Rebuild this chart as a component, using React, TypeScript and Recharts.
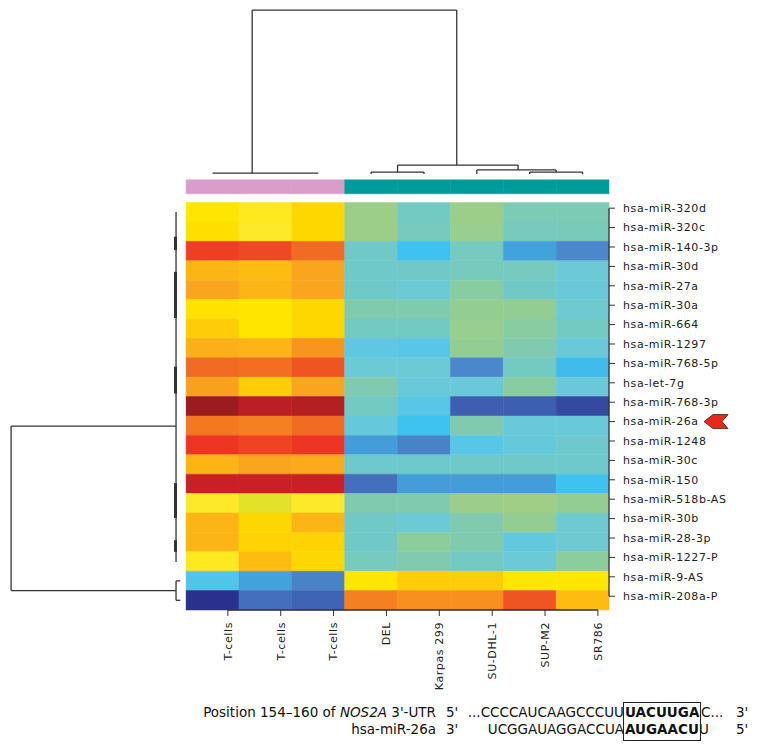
import React from 'react';
import { ComposedChart, XAxis, YAxis, Scatter, ReferenceArea, ReferenceLine } from 'recharts';

const samples = ['T-cells', 'T-cells', 'T-cells', 'DEL', 'Karpas 299', 'SU-DHL-1', 'SUP-M2', 'SR786'];
const sampleGroups = ['T-cells', 'T-cells', 'T-cells', 'ALCL', 'ALCL', 'ALCL', 'ALCL', 'ALCL'];
const groupColors: Record<string, string> = { 'T-cells': '#da9dc9', ALCL: '#009c9b' };

const mirnas = [
  'hsa-miR-320d', 'hsa-miR-320c', 'hsa-miR-140-3p', 'hsa-miR-30d', 'hsa-miR-27a', 'hsa-miR-30a',
  'hsa-miR-664', 'hsa-miR-1297', 'hsa-miR-768-5p', 'hsa-let-7g', 'hsa-miR-768-3p', 'hsa-miR-26a',
  'hsa-miR-1248', 'hsa-miR-30c', 'hsa-miR-150', 'hsa-miR-518b-AS', 'hsa-miR-30b', 'hsa-miR-28-3p',
  'hsa-miR-1227-P', 'hsa-miR-9-AS', 'hsa-miR-208a-P',
];
const highlighted = 'hsa-miR-26a';

// relative expression per sample, 0 = lowest (blue) .. 1 = highest (dark red)
const tCells1 = [0.66, 0.68, 0.935, 0.77, 0.8, 0.67, 0.73, 0.78, 0.89, 0.81, 1.0, 0.87, 0.945, 0.77, 0.97, 0.64, 0.77, 0.77, 0.645, 0.3, 0.0];
const tCells2 = [0.645, 0.64, 0.925, 0.76, 0.77, 0.66, 0.66, 0.77, 0.885, 0.73, 0.98, 0.86, 0.93, 0.8, 0.97, 0.6, 0.7, 0.71, 0.76, 0.2, 0.12];
const tCells3 = [0.7, 0.7, 0.89, 0.8, 0.8, 0.7, 0.7, 0.83, 0.91, 0.8, 0.985, 0.89, 0.945, 0.79, 0.97, 0.64, 0.77, 0.71, 0.7, 0.15, 0.1];
const del = [0.55, 0.55, 0.43, 0.42, 0.42, 0.48, 0.44, 0.34, 0.38, 0.48, 0.44, 0.36, 0.19, 0.41, 0.12, 0.48, 0.43, 0.43, 0.45, 0.66, 0.86];
const karpas299 = [0.44, 0.45, 0.25, 0.43, 0.38, 0.48, 0.44, 0.32, 0.38, 0.37, 0.32, 0.25, 0.15, 0.41, 0.19, 0.48, 0.38, 0.51, 0.48, 0.73, 0.84];
const suDhl1 = [0.55, 0.54, 0.45, 0.45, 0.5, 0.53, 0.54, 0.53, 0.16, 0.37, 0.09, 0.48, 0.32, 0.42, 0.19, 0.55, 0.48, 0.48, 0.44, 0.73, 0.84];
const supM2 = [0.47, 0.45, 0.2, 0.45, 0.43, 0.53, 0.5, 0.48, 0.44, 0.5, 0.09, 0.37, 0.36, 0.42, 0.19, 0.56, 0.53, 0.35, 0.38, 0.66, 0.91];
const sr786 = [0.47, 0.46, 0.16, 0.38, 0.37, 0.4, 0.44, 0.37, 0.24, 0.37, 0.05, 0.37, 0.41, 0.41, 0.25, 0.53, 0.4, 0.4, 0.51, 0.66, 0.76];
const columns = [tCells1, tCells2, tCells3, del, karpas299, suDhl1, supM2, sr786];

// sample dendrogram (x = column position, y = merge height in row units above the map)
const sampleMerges = [
  { a: 0.5, ah: -1.52, b: 2.5, bh: -1.52, h: -1.52 },
  { a: 3.5, ah: -1.47, b: 4.5, bh: -1.47, h: -1.57 },
  { a: 6.5, ah: -1.47, b: 7.5, bh: -1.47, h: -1.57 },
  { a: 5.5, ah: -1.47, b: 7.0, bh: -1.57, h: -1.68 },
  { a: 4.0, ah: -1.57, b: 6.28, bh: -1.68, h: -1.93 },
  { a: 1.25, ah: -1.52, b: 5.12, bh: -1.93, h: -9.92 },
];
// miRNA dendrogram (y = row position, x = merge height in column units left of the map)
const mirnaMerges = [
  { a: 0.49, ah: -0.19, b: 18.52, bh: -0.19, h: -0.19 },
  { a: 19.5, ah: -0.11, b: 20.5, bh: -0.11, h: -0.19 },
  { a: 11.52, ah: -0.19, b: 20.0, bh: -0.19, h: -3.31 },
];
const mirnaTightClusters = [[1.76, 2.45], [3.57, 5.95], [8.46, 9.84], [14.46, 16.26], [17.4, 18.0]];

const X_MIN = -3.52;
const Y_MIN = -10.44;
const TICK_SHIFT = 0.29;

const stops: [number, string][] = [
  [0.0, '#29308d'], [0.1, '#3f63b5'], [0.16, '#4a88cb'], [0.2, '#42a2dc'], [0.25, '#3ec2ef'],
  [0.32, '#58c6e6'], [0.38, '#6ccad6'], [0.43, '#70c9c6'], [0.47, '#7ccbb5'], [0.52, '#90cd96'],
  [0.56, '#a0ce86'], [0.6, '#e2e22a'], [0.64, '#fde82a'], [0.66, '#ffe600'], [0.7, '#ffd700'],
  [0.73, '#ffcc0a'], [0.77, '#fdb515'], [0.8, '#f9a51d'], [0.84, '#f7901e'], [0.87, '#f47820'],
  [0.89, '#f26b22'], [0.91, '#ef5523'], [0.93, '#ee4424'], [0.95, '#ec3024'], [0.97, '#c92028'],
  [0.985, '#b41f24'], [1.0, '#9b1b1f'],
];

const hex = (c: string) => [1, 3, 5].map((i) => parseInt(c.slice(i, i + 2), 16));
const colorFor = (v: number) => {
  for (let i = 1; i < stops.length; i++) {
    if (v <= stops[i][0]) {
      const [t0, c0] = stops[i - 1];
      const [t1, c1] = stops[i];
      const t = (v - t0) / (t1 - t0 || 1);
      const a = hex(c0);
      const b = hex(c1);
      return `rgb(${a.map((x, k) => Math.round(x + (b[k] - x) * t)).join(',')})`;
    }
  }
  return stops[stops.length - 1][1];
};

type Seg = { x1: number; y1: number; x2: number; y2: number; w?: number };
const sampleSegs: Seg[] = sampleMerges.flatMap((m) => [
  { x1: m.a, y1: m.ah, x2: m.a, y2: m.h },
  { x1: m.b, y1: m.bh, x2: m.b, y2: m.h },
  { x1: m.a, y1: m.h, x2: m.b, y2: m.h },
]);
const mirnaSegs: Seg[] = [
  ...mirnaMerges.flatMap((m) => [
    { x1: m.ah, y1: m.a, x2: m.h, y2: m.a },
    { x1: m.bh, y1: m.b, x2: m.h, y2: m.b },
    { x1: m.h, y1: m.a, x2: m.h, y2: m.b },
  ]),
  ...mirnaTightClusters.map(([a, b]) => ({ x1: -0.2, y1: a, x2: -0.2, y2: b, w: 3 })),
];

const cells = columns.flatMap((col, c) => col.map((v, r) => ({ x: c + 0.5, y: r + 0.5, c, r, v })));
const colTicks = samples.map((_, i) => i + 0.5 + TICK_SHIFT);
const rowTicks = mirnas.map((_, i) => i + TICK_SHIFT);

const font = '"DejaVu Sans", Verdana, sans-serif';

const ColumnTick = (props: any) => {
  const { x, y, payload } = props;
  const label = samples[Math.round(payload.value - 0.5 - TICK_SHIFT)];
  return (
    <g transform={`translate(${x},${y})`}>
      <text transform="rotate(-90)" textAnchor="end" dy="0.35em" fontSize={11} letterSpacing={0.6} fontFamily={font} fill="#222">
        {label}
      </text>
    </g>
  );
};

const RowTick = (props: any) => {
  const { x, y, payload } = props;
  const label = mirnas[Math.round(payload.value - TICK_SHIFT)];
  return (
    <g transform={`translate(${x},${y})`}>
      <text textAnchor="start" dy="0.35em" fontSize={11} letterSpacing={0.6} fontFamily={font} fill="#222">
        {label}
      </text>
      {label === highlighted && (
        <path d="M 81 0 L 90 -7 L 105 -7 L 99 0 L 105 7 L 90 7 Z" fill="#e52a1d" stroke="#3a1a12" strokeWidth={0.8} />
      )}
    </g>
  );
};

const Empty = () => <g />;

const seqStyle: React.CSSProperties = {
  position: 'absolute',
  fontFamily: font,
  fontSize: 13.5,
  lineHeight: '16px',
  color: '#111',
  whiteSpace: 'pre',
};

export default function App() {
  return (
    <div style={{ position: 'absolute', left: 0, top: 0, width: 764, height: 752, background: '#fff' }}>
      <ComposedChart width={764} height={752} data={cells} margin={{ top: 0, right: 0, bottom: 0, left: 0 }}>
        <XAxis
          dataKey="x"
          type="number"
          domain={[X_MIN, 8]}
          allowDataOverflow
          ticks={colTicks}
          interval={0}
          height={142}
          axisLine={false}
          tickLine={{ stroke: '#333' }}
          tickSize={6}
          tickMargin={6}
          tick={<ColumnTick />}
        />
        <YAxis
          dataKey="y"
          type="number"
          orientation="right"
          domain={[Y_MIN, 21]}
          reversed
          allowDataOverflow
          ticks={rowTicks}
          interval={0}
          width={155}
          axisLine={false}
          tickLine={{ stroke: '#333' }}
          tickSize={6}
          tickMargin={8}
          tick={<RowTick />}
        />
        {cells.map((d) => (
          <ReferenceArea
            key={`c${d.c}-${d.r}`}
            x1={d.c}
            x2={d.c + 1}
            y1={d.r}
            y2={d.r + 1}
            fill={colorFor(d.v)}
            fillOpacity={1}
            stroke={colorFor(d.v)}
            strokeWidth={0.5}
            ifOverflow="visible"
          />
        ))}
        {samples.map((s, i) => (
          <ReferenceArea
            key={`g${i}`}
            x1={i}
            x2={i + 1}
            y1={-1.17}
            y2={-0.45}
            fill={groupColors[sampleGroups[i]]}
            fillOpacity={1}
            stroke={groupColors[sampleGroups[i]]}
            strokeWidth={0.5}
            ifOverflow="visible"
          />
        ))}
        {[...sampleSegs, ...mirnaSegs].map((s, i) => (
          <ReferenceLine
            key={`d${i}`}
            segment={[{ x: s.x1, y: s.y1 }, { x: s.x2, y: s.y2 }]}
            stroke="#333"
            strokeWidth={s.w ?? 1.3}
            ifOverflow="visible"
          />
        ))}
        <ReferenceLine
          segment={[{ x: colTicks[0], y: 21 }, { x: colTicks[colTicks.length - 1], y: 21 }]}
          stroke="#333"
          strokeWidth={1.3}
          ifOverflow="visible"
        />
        <ReferenceLine
          segment={[{ x: 8, y: rowTicks[0] }, { x: 8, y: rowTicks[rowTicks.length - 1] }]}
          stroke="#333"
          strokeWidth={1.3}
          ifOverflow="visible"
        />
        <Scatter dataKey="y" shape={<Empty />} isAnimationActive={false} />
      </ComposedChart>

      {/* target site alignment */}
      <div style={{ ...seqStyle, top: 704, left: 0, width: 436, textAlign: 'right' }}>
        Position 154–160 of <i>NOS2A</i> 3'-UTR
      </div>
      <div style={{ ...seqStyle, top: 704, left: 446 }}>5'</div>
      <div style={{ ...seqStyle, top: 704, left: 455, width: 169, textAlign: 'right' }}>...CCCCAUCAAGCCCUU</div>
      <div style={{ ...seqStyle, top: 704, left: 625, fontWeight: 'bold' }}>UACUUGA</div>
      <div style={{ ...seqStyle, top: 704, left: 701 }}>C...</div>
      <div style={{ ...seqStyle, top: 704, left: 736 }}>3'</div>

      <div style={{ ...seqStyle, top: 721, left: 0, width: 436, textAlign: 'right' }}>hsa-miR-26a</div>
      <div style={{ ...seqStyle, top: 721, left: 446 }}>3'</div>
      <div style={{ ...seqStyle, top: 721, left: 455, width: 169, textAlign: 'right' }}>UCGGAUAGGACCUA</div>
      <div style={{ ...seqStyle, top: 721, left: 625, fontWeight: 'bold' }}>AUGAACU</div>
      <div style={{ ...seqStyle, top: 721, left: 699 }}>U</div>
      <div style={{ ...seqStyle, top: 721, left: 736 }}>5'</div>
      <div style={{ position: 'absolute', left: 623, top: 702, width: 76, height: 37, border: '1px solid #222' }} />
    </div>
  );
}
